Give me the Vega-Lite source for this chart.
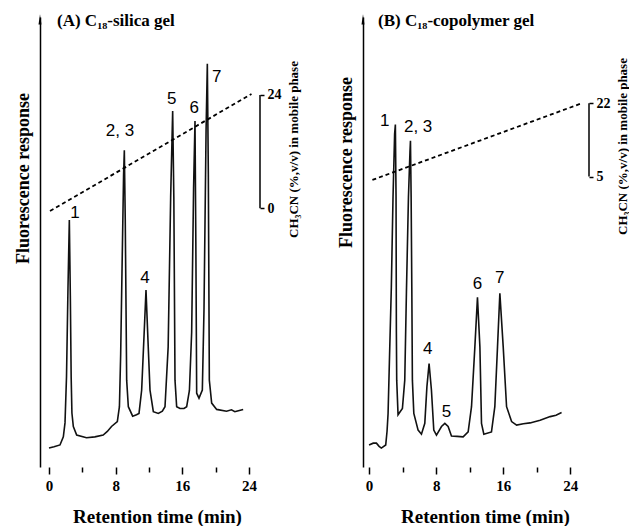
{
  "$schema": "https://vega.github.io/schema/vega-lite/v6.json",
  "background": "white",
  "padding": {"left": 13, "top": 12, "right": 0, "bottom": 0},
  "spacing": 36,
  "config": {"view": {"stroke": null}},
  "datasets": {
    "traceA": [
      {"t": 0.0, "r": 4.2}, {"t": 0.6, "r": 4.5}, {"t": 1.32, "r": 4.9}, {"t": 1.72, "r": 6.7}, {"t": 1.92, "r": 9.8},
      {"t": 2.1, "r": 20}, {"t": 2.28, "r": 40}, {"t": 2.44, "r": 54.9}, {"t": 2.56, "r": 38}, {"t": 2.66, "r": 20},
      {"t": 2.75, "r": 12.0}, {"t": 2.92, "r": 9.0}, {"t": 3.32, "r": 7.1}, {"t": 4.5, "r": 6.5}, {"t": 5.5, "r": 6.7},
      {"t": 6.5, "r": 7.1}, {"t": 7.0, "r": 7.9}, {"t": 7.5, "r": 9.0}, {"t": 8.2, "r": 10.1}, {"t": 8.45, "r": 13.4},
      {"t": 8.6, "r": 25}, {"t": 8.8, "r": 48}, {"t": 8.95, "r": 65}, {"t": 9.04, "r": 70.4}, {"t": 9.15, "r": 55},
      {"t": 9.32, "r": 19.3}, {"t": 9.52, "r": 13.4}, {"t": 10.04, "r": 11.3}, {"t": 10.5, "r": 11.6}, {"t": 10.8, "r": 11.9},
      {"t": 11.12, "r": 17.1}, {"t": 11.4, "r": 29}, {"t": 11.64, "r": 39.3}, {"t": 11.88, "r": 28}, {"t": 12.12, "r": 17.1},
      {"t": 12.52, "r": 12.3}, {"t": 13.12, "r": 11.9}, {"t": 13.6, "r": 12.4}, {"t": 13.92, "r": 13.4}, {"t": 14.3, "r": 26.7},
      {"t": 14.6, "r": 60}, {"t": 14.84, "r": 79.1}, {"t": 14.98, "r": 60}, {"t": 15.12, "r": 19.3}, {"t": 15.32, "r": 13.4},
      {"t": 15.72, "r": 13.0}, {"t": 16.2, "r": 13.0}, {"t": 16.52, "r": 13.4}, {"t": 16.85, "r": 17}, {"t": 17.12, "r": 30},
      {"t": 17.35, "r": 62}, {"t": 17.52, "r": 76.9}, {"t": 17.62, "r": 50}, {"t": 17.72, "r": 16.4}, {"t": 18.0, "r": 15.3},
      {"t": 18.4, "r": 17.1}, {"t": 18.6, "r": 35}, {"t": 18.85, "r": 75}, {"t": 19.0, "r": 89.6}, {"t": 19.12, "r": 65},
      {"t": 19.24, "r": 19.3}, {"t": 19.52, "r": 14.2}, {"t": 20.12, "r": 12.8}, {"t": 21.3, "r": 12.4}, {"t": 21.9, "r": 12.7},
      {"t": 22.3, "r": 12.3}, {"t": 22.5, "r": 12.4}, {"t": 23.3, "r": 12.8}
    ],
    "labelsA": [
      {"t": 3.12, "r": 56.4, "label": "1"},
      {"t": 8.52, "r": 74.7, "label": "2, 3"},
      {"t": 11.52, "r": 41.9, "label": "4"},
      {"t": 14.72, "r": 81.7, "label": "5"},
      {"t": 17.44, "r": 79.8, "label": "6"},
      {"t": 20.12, "r": 86.6, "label": "7"}
    ],
    "gradA": [{"t": 0.12, "pct": -0.6}, {"t": 24.3, "pct": 24.2}],
    "bracketA": [{"lo": 0, "hi": 24}],
    "traceB": [
      {"t": 0.0, "r": 4.9}, {"t": 0.5, "r": 5.3}, {"t": 0.88, "r": 5.3}, {"t": 1.2, "r": 4.6}, {"t": 1.47, "r": 4.2},
      {"t": 1.99, "r": 4.9}, {"t": 2.15, "r": 8}, {"t": 2.27, "r": 11.9}, {"t": 2.45, "r": 25}, {"t": 2.66, "r": 40},
      {"t": 2.86, "r": 60}, {"t": 3.05, "r": 74}, {"t": 3.14, "r": 76.1}, {"t": 3.22, "r": 60}, {"t": 3.26, "r": 30},
      {"t": 3.3, "r": 19.3}, {"t": 3.46, "r": 11.6}, {"t": 3.98, "r": 13.0}, {"t": 4.26, "r": 19.3}, {"t": 4.46, "r": 39},
      {"t": 4.7, "r": 60}, {"t": 4.88, "r": 70}, {"t": 4.94, "r": 72.5}, {"t": 5.02, "r": 60}, {"t": 5.1, "r": 40},
      {"t": 5.17, "r": 19.3}, {"t": 5.34, "r": 11.9}, {"t": 5.85, "r": 8.2}, {"t": 6.25, "r": 7.3}, {"t": 6.65, "r": 9.7},
      {"t": 6.9, "r": 17.8}, {"t": 7.16, "r": 23.0}, {"t": 7.44, "r": 17.1}, {"t": 7.72, "r": 8.2}, {"t": 8.04, "r": 7.1},
      {"t": 8.64, "r": 9.0}, {"t": 9.04, "r": 9.7}, {"t": 9.43, "r": 9.0}, {"t": 9.83, "r": 6.9}, {"t": 10.5, "r": 6.8},
      {"t": 11.22, "r": 6.7}, {"t": 11.82, "r": 7.8}, {"t": 12.22, "r": 13.4}, {"t": 12.62, "r": 26.7}, {"t": 12.93, "r": 37.7},
      {"t": 13.22, "r": 26.7}, {"t": 13.41, "r": 9.7}, {"t": 13.69, "r": 7.3}, {"t": 14.6, "r": 7.8}, {"t": 15.0, "r": 13.4},
      {"t": 15.32, "r": 26.7}, {"t": 15.6, "r": 38.6}, {"t": 16.0, "r": 26.7}, {"t": 16.4, "r": 13.4}, {"t": 17.0, "r": 10.1},
      {"t": 17.6, "r": 9.3}, {"t": 18.4, "r": 9.6}, {"t": 19.2, "r": 9.8}, {"t": 20.4, "r": 10.4}, {"t": 21.6, "r": 11.2},
      {"t": 22.3, "r": 11.5}, {"t": 22.96, "r": 12.1}
    ],
    "labelsB": [
      {"t": 1.87, "r": 77.0, "label": "1"},
      {"t": 5.85, "r": 75.5, "label": "2, 3"},
      {"t": 7.0, "r": 26.2, "label": "4"},
      {"t": 9.23, "r": 12.3, "label": "5"},
      {"t": 12.93, "r": 40.6, "label": "6"},
      {"t": 15.6, "r": 41.9, "label": "7"}
    ],
    "gradB": [{"t": 0.4, "pct": 4.23}, {"t": 25.35, "pct": 22}],
    "bracketB": [{"lo": 5, "hi": 22}]
  },
  "hconcat": [
    {
      "width": 220,
      "height": 450,
      "title": {"text": "(A) C₁₈-silica gel", "anchor": "start", "frame": "group", "dx": 17, "offset": -16, "font": "Liberation Serif", "fontSize": 17, "fontWeight": "bold", "color": "#000"},
      "encoding": {
        "x": {
          "field": "t", "type": "quantitative",
          "scale": {"domain": [-1.08, 25.32], "nice": false, "zero": false},
          "axis": {
            "values": [0, 4, 8, 12, 16, 20, 24], "domain": false, "grid": false,
            "tickColor": "#000", "tickWidth": 1.5,
            "tickSize": {"condition": {"test": "datum.value % 8 === 0", "value": 7}, "value": 5},
            "labelExpr": "datum.value % 8 === 0 ? datum.label : ''", "labelFlush": false,
            "labelFont": "Liberation Serif", "labelFontSize": 15, "labelFontWeight": "bold", "labelColor": "#000", "labelPadding": 4,
            "title": "Retention time (min)", "titleFont": "Liberation Serif", "titleFontSize": 19, "titleFontWeight": "bold", "titleColor": "#000", "titlePadding": 14, "titleX": 117
          }
        }
      },
      "layer": [
        {
          "encoding": {
            "y": {
              "field": "r", "type": "quantitative",
              "scale": {"domain": [0, 100], "nice": false, "zero": false},
              "axis": {
                "orient": "left", "domain": true, "domainColor": "#000", "domainWidth": 1.5, "ticks": false, "labels": false, "grid": false,
                "title": "Fluorescence response", "titleFont": "Liberation Serif", "titleFontSize": 18, "titleFontWeight": "bold", "titleColor": "#000",
                "titleAngle": 270, "titlePadding": 8, "titleY": 161
              }
            }
          },
          "layer": [
            {"data": {"name": "traceA"}, "mark": {"type": "line", "color": "#111", "strokeWidth": 1.6}},
            {"data": {"name": "labelsA"}, "mark": {"type": "text", "font": "Liberation Sans", "fontSize": 17, "baseline": "middle", "color": "#000"}, "encoding": {"text": {"field": "label"}}},
            {"data": {"values": [{}]}, "mark": {"type": "point", "shape": "wedge", "filled": true, "color": "#000", "size": 140, "opacity": 1}, "encoding": {"x": {"value": 0}, "y": {"value": 4}}},
            {"data": {"values": [{}]}, "mark": {"type": "rule", "color": "#000", "strokeWidth": 1.5}, "encoding": {"x": {"datum": 0}, "x2": {"datum": 24}, "y": {"value": "height"}}}
          ]
        },
        {
          "encoding": {
            "y": {
              "field": "pct", "type": "quantitative",
              "scale": {"domain": [-54.8, 40.5], "nice": false, "zero": false},
              "axis": {
                "orient": "right", "values": [0, 24], "domain": false, "grid": false,
                "tickColor": "#000", "tickWidth": 1.5, "tickSize": 4, "labelFlush": false,
                "labelFont": "Liberation Serif", "labelFontSize": 14, "labelFontWeight": "bold", "labelColor": "#000", "labelPadding": 3,
                "title": "CH₃CN (%,v/v) in mobile phase", "titleFont": "Liberation Serif", "titleFontSize": 13, "titleFontWeight": "bold", "titleColor": "#000",
                "titleAngle": 270, "titleBaseline": "top", "titlePadding": 6, "titleY": 132
              }
            }
          },
          "layer": [
            {"data": {"name": "gradA"}, "mark": {"type": "line", "color": "#000", "strokeWidth": 1.8, "strokeDash": [4, 3]}},
            {"data": {"name": "bracketA"}, "mark": {"type": "rule", "color": "#000", "strokeWidth": 1.5}, "encoding": {"x": {"value": "width"}, "y": {"field": "lo", "type": "quantitative"}, "y2": {"field": "hi"}}}
          ]
        }
      ],
      "resolve": {"scale": {"y": "independent"}, "axis": {"y": "independent"}}
    },
    {
      "width": 226,
      "height": 450,
      "title": {"text": "(B) C₁₈-copolymer gel", "anchor": "start", "frame": "group", "dx": 15, "offset": -16, "font": "Liberation Serif", "fontSize": 17, "fontWeight": "bold", "color": "#000"},
      "encoding": {
        "x": {
          "field": "t", "type": "quantitative",
          "scale": {"domain": [-0.72, 26.23], "nice": false, "zero": false},
          "axis": {
            "values": [0, 4, 8, 12, 16, 20, 24], "domain": false, "grid": false,
            "tickColor": "#000", "tickWidth": 1.5,
            "tickSize": {"condition": {"test": "datum.value % 8 === 0", "value": 7}, "value": 5},
            "labelExpr": "datum.value % 8 === 0 ? datum.label : ''", "labelFlush": false,
            "labelFont": "Liberation Serif", "labelFontSize": 15, "labelFontWeight": "bold", "labelColor": "#000", "labelPadding": 4,
            "title": "Retention time (min)", "titleFont": "Liberation Serif", "titleFontSize": 19, "titleFontWeight": "bold", "titleColor": "#000", "titlePadding": 14, "titleX": 122
          }
        }
      },
      "layer": [
        {
          "encoding": {
            "y": {
              "field": "r", "type": "quantitative",
              "scale": {"domain": [0, 100], "nice": false, "zero": false},
              "axis": {
                "orient": "left", "domain": true, "domainColor": "#000", "domainWidth": 1.5, "ticks": false, "labels": false, "grid": false,
                "title": "Fluorescence response", "titleFont": "Liberation Serif", "titleFontSize": 18, "titleFontWeight": "bold", "titleColor": "#000",
                "titleAngle": 270, "titlePadding": 8, "titleY": 145
              }
            }
          },
          "layer": [
            {"data": {"name": "traceB"}, "mark": {"type": "line", "color": "#111", "strokeWidth": 1.6}},
            {"data": {"name": "labelsB"}, "mark": {"type": "text", "font": "Liberation Sans", "fontSize": 17, "baseline": "middle", "color": "#000"}, "encoding": {"text": {"field": "label"}}},
            {"data": {"values": [{}]}, "mark": {"type": "point", "shape": "wedge", "filled": true, "color": "#000", "size": 140, "opacity": 1}, "encoding": {"x": {"value": 0}, "y": {"value": 4}}},
            {"data": {"values": [{}]}, "mark": {"type": "rule", "color": "#000", "strokeWidth": 1.5}, "encoding": {"x": {"datum": 0}, "x2": {"datum": 24}, "y": {"value": "height"}}}
          ]
        },
        {
          "encoding": {
            "y": {
              "field": "pct", "type": "quantitative",
              "scale": {"domain": [-62.35, 42.02], "nice": false, "zero": false},
              "axis": {
                "orient": "right", "values": [5, 22], "domain": false, "grid": false,
                "tickColor": "#000", "tickWidth": 1.5, "tickSize": 4, "labelFlush": false,
                "labelFont": "Liberation Serif", "labelFontSize": 14, "labelFontWeight": "bold", "labelColor": "#000", "labelPadding": 3,
                "title": "CH₃CN (%,v/v) in mobile phase", "titleFont": "Liberation Serif", "titleFontSize": 13, "titleFontWeight": "bold", "titleColor": "#000",
                "titleAngle": 270, "titleBaseline": "top", "titlePadding": 6, "titleY": 129
              }
            }
          },
          "layer": [
            {"data": {"name": "gradB"}, "mark": {"type": "line", "color": "#000", "strokeWidth": 1.8, "strokeDash": [4, 3]}},
            {"data": {"name": "bracketB"}, "mark": {"type": "rule", "color": "#000", "strokeWidth": 1.5}, "encoding": {"x": {"value": "width"}, "y": {"field": "lo", "type": "quantitative"}, "y2": {"field": "hi"}}}
          ]
        }
      ],
      "resolve": {"scale": {"y": "independent"}, "axis": {"y": "independent"}}
    }
  ]
}
